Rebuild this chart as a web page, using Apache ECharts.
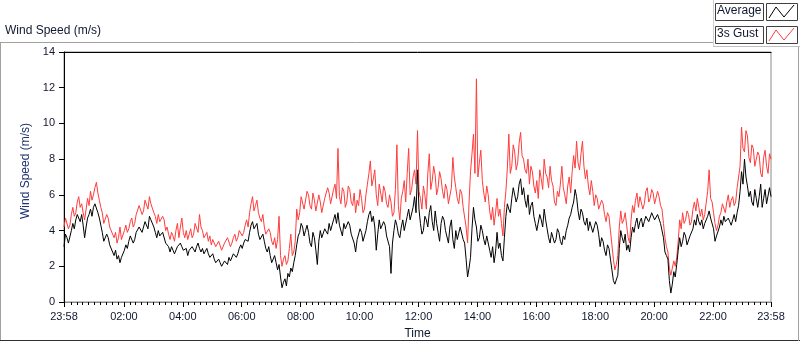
<!DOCTYPE html>
<html>
<head>
<meta charset="utf-8">
<script src="https://cdn.jsdelivr.net/npm/echarts@6/dist/echarts.min.js"></script>
<style>
  html, body { margin: 0; padding: 0; background: #fff; }
  #chart { width: 800px; height: 342px; }
</style>
</head>
<body>
<div id="chart"></div>
<script>
// one sample every 3 minutes, starting 23:58
const STEP_MIN = 3;

const GUST = [
  4.2,4.7, 4.6,4.1, 4.3,4.9, 5.3,4.8, 5.0,5.6, 5.9,5.3, 5.5,5.0, 4.6,5.2, 5.8,5.4, 6.2,5.7,
  6.0,6.4, 6.7,6.1, 5.7,5.3, 5.0,4.4, 4.5,4.9, 4.7,4.2, 4.3,3.8, 3.6,3.9, 3.3,3.6, 4.2,3.5,
  3.6,4.0, 4.3,3.9, 4.1,4.5, 4.7,4.2, 4.4,4.9, 4.8,5.4, 5.3,4.9, 5.1,5.7, 5.6,5.2, 5.9,5.5,
  5.5,5.0, 4.8,4.4, 4.9,4.5, 4.4,4.8, 4.6,4.0, 4.2,3.8, 3.5,3.9, 3.7,3.4, 4.0,4.4, 3.6,4.2,
  4.7,3.9, 3.6,4.0, 3.5,3.8, 4.1,3.6, 3.8,4.4, 4.3,3.9, 4.9,4.2, 4.0,3.6, 3.7,3.9, 3.4,3.7,
  3.2,3.5, 3.5,3.1, 3.0,3.4, 3.3,2.9, 2.9,3.3, 3.2,3.6, 3.5,3.1, 3.3,3.6, 3.8,3.4, 3.6,4.0,
  4.0,3.7, 3.9,4.3, 4.6,4.2, 5.0,5.5, 5.9,5.1, 5.4,5.7, 5.0,4.7, 4.5,4.9, 4.2,3.8, 3.7,4.1,
  3.9,3.4, 3.2,3.6, 3.0,3.5, 4.8,2.6, 2.0,2.4, 2.6,2.1, 2.3,3.0, 3.8,2.6, 2.8,3.4, 5.2,4.6,
  5.0,5.9, 5.8,5.2, 5.3,6.2, 6.0,5.4, 5.2,6.1, 5.7,5.1, 5.0,6.0, 5.6,5.0, 5.1,5.8, 5.7,6.4,
  6.1,5.5, 5.6,6.3, 6.6,5.8, 8.6,5.9, 5.5,6.4, 6.2,5.3, 5.6,6.5, 6.3,5.6, 5.4,6.1, 5.0,5.7,
  5.4,6.3, 5.8,5.0, 5.2,6.0, 6.6,7.2, 7.9,6.5, 6.9,7.4, 6.0,5.4, 6.6,6.1, 5.6,6.5, 6.2,5.5,
  5.3,6.0, 5.6,4.8, 5.0,6.3, 8.8,5.4, 4.6,5.8, 6.2,6.8, 5.6,7.2, 8.6,6.0, 6.3,7.0, 7.4,6.6,
  9.6,6.2, 5.8,5.2, 6.5,6.0, 5.2,7.2, 8.3,6.3, 6.8,7.6, 7.1,6.0, 6.4,7.3, 6.9,6.2, 5.8,6.6,
  6.3,5.5, 5.6,6.4, 8.1,7.0, 6.4,5.8, 5.5,6.3, 6.1,5.3, 5.4,4.2, 3.3,5.6, 7.3,8.3, 9.4,7.2,
  12.5,7.0, 7.8,8.5, 6.8,6.1, 5.6,6.5, 6.0,5.1, 4.6,5.3, 4.3,5.0, 5.8,4.8, 5.2,4.4, 3.7,5.3,
  6.2,7.5, 9.4,7.2, 7.6,8.8, 8.4,7.4, 7.8,8.9, 9.5,8.2, 8.0,7.4, 7.2,8.0, 6.6,7.6, 7.3,6.5,
  6.1,6.8, 5.8,7.4, 6.9,6.3, 8.0,7.2, 7.0,6.4, 7.6,6.8, 6.5,5.6, 5.4,6.2, 5.9,6.6, 7.6,6.4,
  6.0,5.5, 6.5,7.0, 6.1,7.3, 8.2,7.5, 9.0,7.8, 7.4,8.3, 9.0,7.6, 6.9,7.4, 6.5,6.0, 6.8,6.2,
  5.4,6.0, 5.8,5.2, 5.1,5.7, 5.5,4.9, 4.5,5.0, 4.8,4.0, 3.2,2.4, 1.8,2.1, 2.6,4.2, 5.1,4.4,
  4.6,5.0, 4.3,3.6, 3.3,4.6, 5.4,5.0, 5.7,6.1, 5.3,5.9, 5.8,5.2, 5.5,6.2, 6.4,5.6, 5.8,6.3,
  6.1,5.5, 5.6,6.2, 5.9,5.4, 5.2,4.4, 3.6,3.1, 2.8,1.9, 1.5,1.9, 2.3,2.0, 2.5,3.4, 4.6,4.1,
  5.0,4.4, 4.6,5.1, 4.9,4.3, 4.5,5.2, 5.6,5.1, 5.8,5.3, 4.8,5.2, 4.6,4.9, 5.0,6.2, 7.4,5.8,
  5.6,5.0, 4.4,4.0, 4.3,4.8, 5.0,5.5, 5.4,5.0, 5.6,6.0, 5.3,5.7, 5.9,5.4, 5.6,6.4, 6.3,7.6,
  9.8,8.6, 8.4,9.6, 9.3,8.1, 7.8,8.8, 8.6,7.6, 7.5,8.4, 8.2,7.2, 7.0,8.1, 8.5,7.6, 7.2,8.3,
  8.0
];

const AVERAGE = [
  3.1,3.8, 3.6,3.3, 3.4,4.0, 4.4,4.1, 4.6,4.9, 4.8,4.5, 4.9,4.3, 3.6,4.2, 4.7,4.9, 5.2,4.8,
  5.3,5.5, 5.4,5.0, 4.7,4.3, 3.9,3.4, 3.5,3.8, 3.6,3.2, 3.3,2.8, 2.6,2.9, 2.4,2.6, 2.2,2.5,
  2.5,2.9, 3.2,3.0, 3.4,3.7, 3.6,3.3, 3.5,3.9, 3.8,4.2, 4.1,3.9, 4.2,4.5, 4.4,4.1, 4.8,4.6,
  4.6,4.2, 3.9,3.6, 4.0,3.7, 3.6,3.9, 3.8,3.3, 3.4,3.1, 2.8,3.1, 2.9,2.7, 2.7,3.1, 3.0,3.3,
  3.1,2.9, 2.8,3.0, 2.6,2.9, 2.8,3.1, 3.0,2.8, 3.1,3.3, 3.0,2.8, 3.0,2.7, 2.8,3.0, 2.7,2.5,
  2.5,2.7, 2.4,2.2, 2.1,2.4, 2.2,2.0, 2.0,2.3, 2.3,2.1, 2.5,2.3, 2.4,2.7, 2.8,2.5, 2.7,3.0,
  3.2,3.0, 3.3,3.5, 3.6,3.4, 3.9,4.3, 4.5,4.1, 4.2,4.4, 3.8,3.5, 3.6,3.8, 3.4,3.0, 2.8,3.1,
  2.6,2.2, 2.3,2.6, 2.2,1.8, 2.1,1.4, 0.8,1.1, 1.3,0.9, 1.6,1.4, 1.9,1.7, 2.2,2.6, 3.2,3.7,
  3.9,4.4, 4.2,3.7, 4.0,4.3, 3.9,3.3, 3.1,3.9, 3.6,2.9, 2.1,3.4, 4.0,3.6, 3.7,4.1, 4.2,3.8,
  4.4,4.0, 4.0,4.6, 4.9,4.4, 5.0,4.3, 4.2,3.7, 4.4,4.1, 4.0,4.5, 4.3,3.8, 3.9,3.3, 2.8,3.5,
  3.6,4.1, 3.9,3.4, 3.5,4.0, 4.5,4.9, 5.1,4.5, 4.8,4.2, 2.9,3.8, 4.6,4.1, 4.0,4.5, 4.3,3.7,
  3.8,3.1, 1.6,3.3, 4.0,4.6, 4.3,3.8, 3.6,4.2, 4.6,4.0, 4.1,4.8, 5.2,4.6, 4.7,5.3, 5.9,5.0,
  7.4,5.2, 4.4,3.8, 4.0,4.8, 4.6,4.2, 5.0,5.4, 4.5,4.0, 5.1,4.4, 3.9,3.4, 4.4,4.8, 4.6,4.0,
  3.9,3.3, 4.2,4.6, 3.5,3.0, 4.0,3.5, 3.6,4.2, 4.1,3.5, 3.3,2.4, 1.4,1.9, 2.5,4.1, 5.3,4.6,
  4.2,3.4, 3.6,4.3, 4.0,3.5, 3.2,3.7, 3.6,2.9, 2.5,3.1, 2.2,2.8, 3.9,3.0, 3.3,2.6, 2.3,3.6,
  4.8,5.5, 5.2,5.0, 5.8,6.4, 6.3,5.6, 5.9,6.6, 6.9,6.0, 6.4,5.7, 5.3,6.0, 4.9,5.4, 5.6,4.8,
  4.4,4.0, 4.1,4.9, 4.6,4.2, 5.2,4.6, 4.1,3.6, 3.3,3.9, 3.8,3.3, 3.5,4.1, 3.9,3.4, 3.2,3.7,
  3.5,4.0, 4.3,4.7, 4.9,5.3, 5.6,6.3, 5.9,5.1, 4.6,5.2, 5.0,4.5, 4.3,4.7, 4.0,4.5, 4.4,3.9,
  4.0,4.5, 4.3,3.8, 3.1,3.6, 3.4,2.9, 2.6,3.2, 3.0,2.4, 1.8,1.2, 1.0,1.1, 1.5,3.0, 4.0,3.6,
  3.3,3.8, 2.9,3.2, 2.8,3.6, 4.2,3.9, 4.4,4.7, 4.1,4.5, 4.7,4.2, 4.5,4.8, 4.9,4.5, 4.6,5.0,
  5.0,4.6, 4.5,4.9, 4.8,4.4, 4.5,3.6, 2.8,2.6, 2.4,1.2, 0.5,1.0, 1.7,1.4, 2.1,2.9, 3.6,3.1,
  3.4,3.9, 3.7,3.2, 3.3,3.7, 3.6,4.1, 4.6,4.3, 4.9,4.5, 4.3,4.6, 4.1,4.4, 4.3,4.8, 5.1,4.7,
  4.8,4.1, 3.4,3.7, 3.6,4.2, 4.6,4.3, 4.8,4.5, 4.4,4.7, 4.5,4.3, 4.6,4.9, 4.5,5.0, 5.4,6.2,
  7.3,6.6, 8.0,7.0, 6.5,5.9, 6.2,5.6, 5.4,6.3, 5.8,5.3, 5.9,6.6, 5.3,5.8, 6.3,5.5, 5.6,6.4,
  5.9
];

// x axis: minutes after 23:58
const TICK_MIN = [0, 122, 242, 362, 482, 602, 722, 842, 962, 1082, 1202, 1322, 1440];
const TICK_LABELS = ['23:58', '02:00', '04:00', '06:00', '08:00', '10:00', '12:00',
  '14:00', '16:00', '18:00', '20:00', '22:00', '23:58'];

// minor ticks every 12 minutes of clock time
const minorTicks = [];
for (let m = 14; m < 1440; m += 12) {
  if (TICK_MIN.indexOf(m) < 0) minorTicks.push(m);
}

const gustData = GUST.map((v, i) => [i * STEP_MIN, v]);
const avgData = AVERAGE.map((v, i) => [i * STEP_MIN, v]);

const FONT = 'Liberation Sans';
const TXT = '#101830';

const chart = echarts.init(document.getElementById('chart'), null, { renderer: 'canvas' });

chart.setOption({
  animation: false,
  backgroundColor: '#fff',
  grid: {
    left: 64, top: 52, right: 29, bottom: 40,
    outerBoundsMode: 'none', containLabel: false,
    show: true, borderColor: '#8a8a8a', borderWidth: 1
  },
  xAxis: [
    {
      type: 'value', min: 0, max: 1440, position: 'bottom',
      name: 'Time', nameLocation: 'middle', nameGap: 26,
      nameTextStyle: { fontFamily: FONT, fontSize: 12, color: TXT },
      axisLine: { lineStyle: { color: '#8a8a8a' } },
      axisTick: { customValues: TICK_MIN, length: 5, lineStyle: { color: '#000' } },
      axisLabel: {
        customValues: TICK_MIN, margin: 9,
        fontFamily: FONT, fontSize: 11, color: TXT,
        formatter: v => TICK_LABELS[TICK_MIN.indexOf(v)]
      },
      splitLine: { show: false }
    },
    {
      type: 'value', min: 0, max: 1440, position: 'bottom',
      axisLine: { show: false },
      axisTick: { customValues: minorTicks, length: 3, lineStyle: { color: '#000' } },
      axisLabel: { show: false },
      splitLine: { show: false }
    },
    {
      type: 'value', min: 0, max: 1440, position: 'top',
      axisLine: { lineStyle: { color: '#000' } },
      axisTick: { show: false }, axisLabel: { show: false }, splitLine: { show: false }
    }
  ],
  yAxis: {
    type: 'value', min: 0, max: 14, interval: 2,
    name: 'Wind Speed (m/s)', nameLocation: 'middle', nameGap: 26,
    nameTextStyle: { fontFamily: FONT, fontSize: 12, color: '#1e3470', padding: [0, 0, 0, 12] },
    axisLine: { show: true, lineStyle: { color: '#000' } },
    axisTick: { show: true, length: 5, lineStyle: { color: '#000' } },
    axisLabel: { margin: 9, fontFamily: FONT, fontSize: 11, color: TXT },
    splitLine: { show: false }
  },
  series: [
    {
      name: '3s Gust', type: 'line', data: gustData, showSymbol: false,
      lineStyle: { color: '#ff3c3c', width: 1 }, itemStyle: { color: '#ff3c3c' }
    },
    {
      name: 'Average', type: 'line', data: avgData, showSymbol: false,
      lineStyle: { color: '#000', width: 1 }, itemStyle: { color: '#000' }
    }
  ],
  graphic: [
    // panel frame
    { type: 'line', shape: { x1: 0, y1: 42.5, x2: 713, y2: 42.5 }, style: { stroke: '#a0a0a0' } },
    { type: 'line', shape: { x1: 0.5, y1: 42, x2: 0.5, y2: 341 }, style: { stroke: '#a0a0a0' } },
    { type: 'line', shape: { x1: 0, y1: 340.5, x2: 800, y2: 340.5 }, style: { stroke: '#303030' } },
    { type: 'line', shape: { x1: 798.5, y1: 47, x2: 798.5, y2: 341 }, style: { stroke: '#a0a0a0' } },
    { type: 'line', shape: { x1: 713.5, y1: 0, x2: 713.5, y2: 47 }, style: { stroke: '#d0d0d0' } },
    { type: 'line', shape: { x1: 713, y1: 46.5, x2: 800, y2: 46.5 }, style: { stroke: '#c0c0c0' } },
    // title
    {
      type: 'text', left: 5, top: 25,
      style: { text: 'Wind Speed (m/s)', fontFamily: FONT, fontSize: 12, fill: TXT }
    },
    // legend: Average
    { type: 'rect', shape: { x: 715.5, y: 3.5, width: 48, height: 17 }, style: { fill: '#fff', stroke: '#404040' } },
    {
      type: 'text', left: 717, top: 5,
      style: { text: 'Average', fontFamily: FONT, fontSize: 12, fill: TXT }
    },
    { type: 'rect', shape: { x: 766.5, y: 3.5, width: 31, height: 17 }, style: { fill: '#fff', stroke: '#404040' } },
    {
      type: 'polyline', shape: { points: [[769, 18], [776, 7], [784, 17], [794, 5]] },
      style: { stroke: '#000', fill: null, lineWidth: 1 }
    },
    // legend: 3s Gust
    { type: 'rect', shape: { x: 715.5, y: 26.5, width: 48, height: 17 }, style: { fill: '#fff', stroke: '#404040' } },
    {
      type: 'text', left: 717, top: 28,
      style: { text: '3s Gust', fontFamily: FONT, fontSize: 12, fill: TXT }
    },
    { type: 'rect', shape: { x: 766.5, y: 26.5, width: 31, height: 17 }, style: { fill: '#fff', stroke: '#404040' } },
    {
      type: 'polyline', shape: { points: [[769, 41], [776, 30], [784, 40], [794, 28]] },
      style: { stroke: '#ff3c3c', fill: null, lineWidth: 1 }
    }
  ]
});
</script>
</body>
</html>
